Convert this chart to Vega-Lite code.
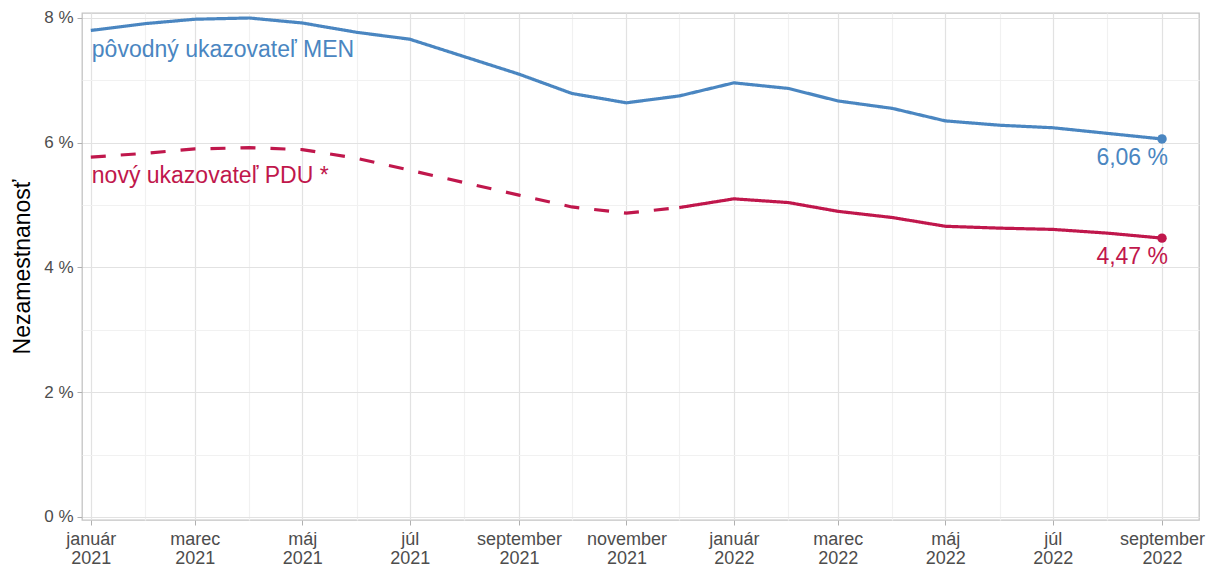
{
  "$schema": "https://vega.github.io/schema/vega-lite/v6.json",
  "width": 1117,
  "height": 507,
  "autosize": {"type": "none"},
  "padding": {"left": 82, "top": 13, "right": 8, "bottom": 49},
  "background": "white",
  "config": {
    "font": "Liberation Sans",
    "view": {"stroke": "#c4c4c4", "strokeWidth": 1.3}
  },
  "datasets": {
    "rady": [
      {"datum": "2021-01-01", "hodnota": 7.80, "ukazovatel": "MEN", "usek": "plna"},
      {"datum": "2021-02-01", "hodnota": 7.91, "ukazovatel": "MEN", "usek": "plna"},
      {"datum": "2021-03-01", "hodnota": 7.98, "ukazovatel": "MEN", "usek": "plna"},
      {"datum": "2021-04-01", "hodnota": 8.00, "ukazovatel": "MEN", "usek": "plna"},
      {"datum": "2021-05-01", "hodnota": 7.92, "ukazovatel": "MEN", "usek": "plna"},
      {"datum": "2021-06-01", "hodnota": 7.77, "ukazovatel": "MEN", "usek": "plna"},
      {"datum": "2021-07-01", "hodnota": 7.66, "ukazovatel": "MEN", "usek": "plna"},
      {"datum": "2021-08-01", "hodnota": 7.38, "ukazovatel": "MEN", "usek": "plna"},
      {"datum": "2021-09-01", "hodnota": 7.10, "ukazovatel": "MEN", "usek": "plna"},
      {"datum": "2021-10-01", "hodnota": 6.79, "ukazovatel": "MEN", "usek": "plna"},
      {"datum": "2021-11-01", "hodnota": 6.64, "ukazovatel": "MEN", "usek": "plna"},
      {"datum": "2021-12-01", "hodnota": 6.75, "ukazovatel": "MEN", "usek": "plna"},
      {"datum": "2022-01-01", "hodnota": 6.96, "ukazovatel": "MEN", "usek": "plna"},
      {"datum": "2022-02-01", "hodnota": 6.87, "ukazovatel": "MEN", "usek": "plna"},
      {"datum": "2022-03-01", "hodnota": 6.67, "ukazovatel": "MEN", "usek": "plna"},
      {"datum": "2022-04-01", "hodnota": 6.55, "ukazovatel": "MEN", "usek": "plna"},
      {"datum": "2022-05-01", "hodnota": 6.35, "ukazovatel": "MEN", "usek": "plna"},
      {"datum": "2022-06-01", "hodnota": 6.28, "ukazovatel": "MEN", "usek": "plna"},
      {"datum": "2022-07-01", "hodnota": 6.24, "ukazovatel": "MEN", "usek": "plna"},
      {"datum": "2022-08-01", "hodnota": 6.15, "ukazovatel": "MEN", "usek": "plna"},
      {"datum": "2022-09-01", "hodnota": 6.06, "ukazovatel": "MEN", "usek": "plna"},
      {"datum": "2021-01-01", "hodnota": 5.77, "ukazovatel": "PDU", "usek": "odhad"},
      {"datum": "2021-02-01", "hodnota": 5.83, "ukazovatel": "PDU", "usek": "odhad"},
      {"datum": "2021-03-01", "hodnota": 5.90, "ukazovatel": "PDU", "usek": "odhad"},
      {"datum": "2021-04-01", "hodnota": 5.92, "ukazovatel": "PDU", "usek": "odhad"},
      {"datum": "2021-05-01", "hodnota": 5.89, "ukazovatel": "PDU", "usek": "odhad"},
      {"datum": "2021-06-01", "hodnota": 5.75, "ukazovatel": "PDU", "usek": "odhad"},
      {"datum": "2021-07-01", "hodnota": 5.56, "ukazovatel": "PDU", "usek": "odhad"},
      {"datum": "2021-08-01", "hodnota": 5.36, "ukazovatel": "PDU", "usek": "odhad"},
      {"datum": "2021-09-01", "hodnota": 5.16, "ukazovatel": "PDU", "usek": "odhad"},
      {"datum": "2021-10-01", "hodnota": 4.97, "ukazovatel": "PDU", "usek": "odhad"},
      {"datum": "2021-11-01", "hodnota": 4.87, "ukazovatel": "PDU", "usek": "odhad"},
      {"datum": "2021-12-01", "hodnota": 4.96, "ukazovatel": "PDU", "usek": "odhad"},
      {"datum": "2021-12-01", "hodnota": 4.96, "ukazovatel": "PDU", "usek": "plna"},
      {"datum": "2022-01-01", "hodnota": 5.10, "ukazovatel": "PDU", "usek": "plna"},
      {"datum": "2022-02-01", "hodnota": 5.04, "ukazovatel": "PDU", "usek": "plna"},
      {"datum": "2022-03-01", "hodnota": 4.90, "ukazovatel": "PDU", "usek": "plna"},
      {"datum": "2022-04-01", "hodnota": 4.80, "ukazovatel": "PDU", "usek": "plna"},
      {"datum": "2022-05-01", "hodnota": 4.66, "ukazovatel": "PDU", "usek": "plna"},
      {"datum": "2022-06-01", "hodnota": 4.63, "ukazovatel": "PDU", "usek": "plna"},
      {"datum": "2022-07-01", "hodnota": 4.61, "ukazovatel": "PDU", "usek": "plna"},
      {"datum": "2022-08-01", "hodnota": 4.55, "ukazovatel": "PDU", "usek": "plna"},
      {"datum": "2022-09-01", "hodnota": 4.47, "ukazovatel": "PDU", "usek": "plna"}
    ],
    "popisy": [
      {"datum": "2021-01-01", "hodnota": 7.38, "ukazovatel": "MEN", "druh": "nazov", "text": "pôvodný ukazovateľ MEN"},
      {"datum": "2021-01-01", "hodnota": 5.35, "ukazovatel": "PDU", "druh": "nazov", "text": "nový ukazovateľ PDU *"},
      {"datum": "2022-09-01", "hodnota": 6.06, "ukazovatel": "MEN", "druh": "koniec", "text": "6,06 %"},
      {"datum": "2022-09-01", "hodnota": 4.47, "ukazovatel": "PDU", "druh": "koniec", "text": "4,47 %"}
    ]
  },
  "encoding": {
    "x": {
      "field": "datum",
      "type": "temporal",
      "scale": {
        "type": "utc",
        "domain": [
          {"year": 2020, "month": 12, "date": 27, "utc": true},
          {"year": 2022, "month": 9, "date": 22, "utc": true}
        ],
        "nice": false
      },
      "axis": {
        "title": null,
        "domain": false,
        "values": [
          {"year": 2021, "month": 1, "date": 1, "utc": true},
          {"year": 2021, "month": 2, "date": 1, "utc": true},
          {"year": 2021, "month": 3, "date": 1, "utc": true},
          {"year": 2021, "month": 4, "date": 1, "utc": true},
          {"year": 2021, "month": 5, "date": 1, "utc": true},
          {"year": 2021, "month": 6, "date": 1, "utc": true},
          {"year": 2021, "month": 7, "date": 1, "utc": true},
          {"year": 2021, "month": 8, "date": 1, "utc": true},
          {"year": 2021, "month": 9, "date": 1, "utc": true},
          {"year": 2021, "month": 10, "date": 1, "utc": true},
          {"year": 2021, "month": 11, "date": 1, "utc": true},
          {"year": 2021, "month": 12, "date": 1, "utc": true},
          {"year": 2022, "month": 1, "date": 1, "utc": true},
          {"year": 2022, "month": 2, "date": 1, "utc": true},
          {"year": 2022, "month": 3, "date": 1, "utc": true},
          {"year": 2022, "month": 4, "date": 1, "utc": true},
          {"year": 2022, "month": 5, "date": 1, "utc": true},
          {"year": 2022, "month": 6, "date": 1, "utc": true},
          {"year": 2022, "month": 7, "date": 1, "utc": true},
          {"year": 2022, "month": 8, "date": 1, "utc": true},
          {"year": 2022, "month": 9, "date": 1, "utc": true}
        ],
        "labelExpr": "utcmonth(datum.value) % 2 === 0 ? [['január','február','marec','apríl','máj','jún','júl','august','september','október','november','december'][utcmonth(datum.value)], utcFormat(datum.value, '%Y')] : ''",
        "labelFontSize": 18,
        "labelColor": "#4d4d4d",
        "labelLineHeight": 19,
        "labelPadding": 5,
        "labelOverlap": false,
        "labelFlush": false,
        "tickSize": 5,
        "tickColor": "#b0b0b0",
        "tickOpacity": {"condition": {"test": "utcmonth(datum.value) % 2 === 1", "value": 0}, "value": 1},
        "gridColor": {"condition": {"test": "utcmonth(datum.value) % 2 === 1", "value": "#f1f1f1"}, "value": "#e2e2e2"},
        "gridWidth": 1.2
      }
    },
    "y": {
      "field": "hodnota",
      "type": "quantitative",
      "scale": {"domain": [-0.05, 8.08], "nice": false, "zero": false},
      "axis": {
        "title": "Nezamestnanosť",
        "titleFontSize": 23,
        "titleFontWeight": "normal",
        "titleColor": "#000000",
        "titlePadding": 9,
        "domain": false,
        "values": [0, 1, 2, 3, 4, 5, 6, 7, 8],
        "labelExpr": "datum.value % 2 === 0 ? datum.value + ' %' : ''",
        "labelFontSize": 17,
        "labelColor": "#4d4d4d",
        "labelPadding": 4,
        "tickSize": 5,
        "tickColor": "#b0b0b0",
        "tickOpacity": {"condition": {"test": "datum.value % 2 === 1", "value": 0}, "value": 1},
        "gridColor": {"condition": {"test": "datum.value % 2 === 1", "value": "#f1f1f1"}, "value": "#e2e2e2"},
        "gridWidth": 1.2
      }
    },
    "color": {
      "field": "ukazovatel",
      "type": "nominal",
      "scale": {"domain": ["MEN", "PDU"], "range": ["#4A86C1", "#C0174C"]},
      "legend": null
    }
  },
  "layer": [
    {
      "data": {"name": "rady"},
      "mark": {"type": "line", "strokeWidth": 3.2, "interpolate": "linear"},
      "encoding": {
        "strokeDash": {
          "field": "usek",
          "type": "nominal",
          "scale": {"domain": ["plna", "odhad"], "range": [[1, 0], [15, 15]]},
          "legend": null
        }
      }
    },
    {
      "data": {"name": "rady"},
      "transform": [{"filter": "utcyear(datum.datum) === 2022 && utcmonth(datum.datum) === 8"}],
      "mark": {"type": "point", "filled": true, "size": 90, "opacity": 1}
    },
    {
      "data": {"name": "popisy"},
      "transform": [{"filter": "datum.druh === 'nazov'"}],
      "mark": {"type": "text", "align": "left", "baseline": "alphabetic", "fontSize": 23, "dx": 1},
      "encoding": {"text": {"field": "text"}}
    },
    {
      "data": {"name": "popisy"},
      "transform": [{"filter": "datum.druh === 'koniec'"}],
      "mark": {"type": "text", "align": "right", "baseline": "alphabetic", "fontSize": 23, "dx": 6, "dy": 26},
      "encoding": {"text": {"field": "text"}}
    }
  ]
}
